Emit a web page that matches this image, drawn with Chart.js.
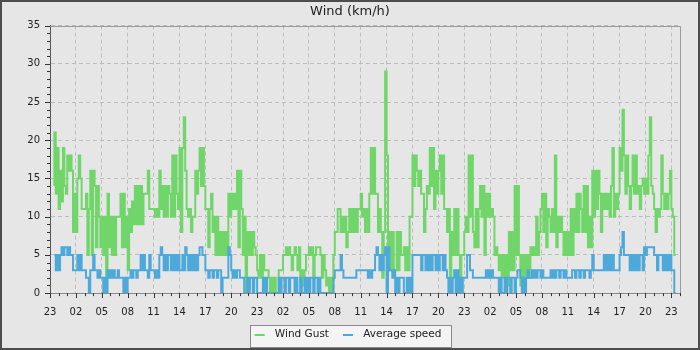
<!DOCTYPE html>
<html>
<head>
<meta charset="utf-8">
<title>Wind (km/h)</title>
<script src="https://cdn.jsdelivr.net/npm/chart.js@4.4.1/dist/chart.umd.min.js"></script>
<style>
  html, body { margin: 0; padding: 0; background: #4d4d4d; }
  canvas { display: block; }
</style>
</head>
<body>
<canvas id="windChart" width="700" height="350"></canvas>
<script>
// DATA - one sample every 10 minutes, first one at 23:30
const firstSample = 0.5;      // hours after 23:00
const sampleStep = 1 / 6;     // 10 min

const tickLabels = ['23','02','05','08','11','14','17','20',
                    '23','02','05','08','11','14','17','20',
                    '23','02','05','08','11','14','17','20','23'];

const gust = [
  14, 21, 13,
  19, 11, 16, 12, 19, 14,
  13, 18, 16, 18, 16, 8,
  13, 8, 15, 18, 15, 11,
  11, 11, 13, 5, 11, 16,
  5, 16, 14, 6, 14, 10,
  6, 10, 5, 10, 2, 13,
  6, 10, 5, 10, 5, 10,
  10, 10, 13, 6, 13, 6,
  10, 3, 11, 8, 12, 9,
  14, 9, 14, 9, 14, 9,
  13, 13, 13, 16, 11, 11,
  11, 11, 10, 11, 10, 16,
  11, 14, 10, 14, 10, 14,
  13, 10, 18, 10, 18, 13,
  11, 19, 8, 19, 23, 16,
  11, 10, 11, 8, 10, 10,
  16, 13, 16, 19, 14, 19,
  14, 11, 11, 6, 11, 13,
  8, 10, 5, 10, 5, 8,
  5, 8, 5, 8, 5, 13,
  10, 13, 11, 13, 11, 16,
  6, 16, 11, 5, 10, 0,
  8, 5, 8, 5, 8, 6,
  5, 3, 2, 5, 2, 5,
  3, 3, 3, 2, 0, 2,
  0, 2, 0, 0, 3, 3,
  3, 5, 5, 6, 5, 6,
  5, 3, 5, 6, 5, 3,
  6, 0, 3, 1, 3, 5,
  5, 6, 5, 6, 2, 5,
  6, 6, 6, 5, 2, 5,
  3, 1, 2, 0, 2, 0,
  5, 8, 8, 11, 11, 8,
  10, 8, 10, 6, 8, 11,
  8, 11, 8, 11, 8, 11,
  11, 13, 10, 11, 8, 11,
  8, 13, 19, 13, 19, 13,
  13, 8, 11, 8, 2, 8,
  29, 18, 3, 8, 3, 8,
  3, 3, 8, 3, 8, 5,
  5, 6, 3, 6, 3, 10,
  10, 18, 14, 18, 16, 14,
  16, 13, 13, 8, 11, 14,
  13, 19, 14, 19, 11, 16,
  13, 16, 18, 13, 18, 11,
  11, 8, 11, 2, 8, 5,
  11, 5, 11, 5, 0, 5,
  5, 8, 10, 8, 18, 10,
  18, 8, 6, 11, 6, 11,
  14, 10, 14, 5, 13, 10,
  13, 10, 11, 10, 5, 6,
  5, 3, 5, 2, 5, 2,
  5, 1, 8, 3, 8, 3,
  14, 5, 14, 5, 1, 5,
  0, 5, 2, 5, 2, 6,
  5, 6, 5, 10, 5, 8,
  11, 13, 8, 13, 6, 11,
  10, 8, 11, 8, 18, 6,
  10, 8, 10, 8, 5, 8,
  5, 8, 5, 11, 5, 11,
  8, 13, 8, 13, 11, 8,
  14, 8, 14, 6, 10, 6,
  16, 10, 16, 11, 16, 13,
  8, 13, 11, 13, 11, 13,
  10, 14, 19, 10, 13, 11,
  13, 19, 16, 24, 18, 13,
  18, 14, 11, 14, 18, 13,
  18, 13, 14, 11, 14, 15,
  13, 15, 13, 18, 23, 14,
  13, 11, 8, 11, 10, 11,
  18, 13, 11, 13, 11, 13,
  16, 11, 10, 5
];

const average = [
  5, 5, 3,
  5, 3, 5, 6, 5, 6,
  6, 5, 6, 5, 5, 3,
  3, 3, 5, 3, 5, 3,
  3, 3, 2, 2, 0, 3,
  3, 5, 3, 3, 2, 3,
  2, 2, 0, 2, 0, 3,
  2, 3, 2, 3, 2, 2,
  3, 2, 2, 2, 0, 2,
  0, 2, 2, 3, 2, 3,
  3, 2, 3, 3, 5, 3,
  5, 3, 3, 2, 5, 3,
  3, 3, 2, 3, 2, 5,
  6, 5, 3, 5, 3, 5,
  5, 3, 5, 3, 5, 3,
  5, 3, 3, 5, 3, 6,
  5, 3, 5, 3, 5, 3,
  5, 3, 5, 6, 6, 5,
  5, 3, 3, 2, 3, 3,
  2, 3, 3, 2, 3, 3,
  0, 2, 2, 2, 2, 6,
  5, 3, 2, 3, 2, 3,
  3, 2, 2, 2, 0, 0,
  2, 0, 2, 2, 0, 2,
  2, 0, 0, 0, 0, 2,
  0, 2, 0, 0, 0, 0,
  0, 0, 0, 0, 2, 0,
  2, 2, 0, 2, 2, 0,
  2, 2, 2, 0, 2, 0,
  0, 2, 0, 0, 2, 0,
  2, 0, 2, 2, 0, 2,
  2, 0, 2, 0, 0, 0,
  0, 0, 0, 0, 0, 0,
  2, 3, 3, 3, 3, 5,
  3, 2, 2, 2, 2, 2,
  2, 2, 2, 2, 3, 3,
  3, 3, 3, 3, 3, 3,
  2, 3, 2, 3, 3, 5,
  6, 5, 3, 5, 3, 5,
  6, 0, 6, 3, 3, 2,
  3, 0, 2, 0, 2, 2,
  2, 0, 0, 2, 0, 2,
  0, 5, 5, 5, 5, 5,
  5, 3, 5, 5, 3, 5,
  3, 5, 3, 5, 5, 3,
  5, 3, 5, 5, 3, 5,
  3, 2, 0, 2, 0, 2,
  3, 0, 3, 0, 2, 0,
  2, 2, 2, 5, 5, 3,
  3, 2, 2, 2, 2, 2,
  2, 2, 2, 2, 3, 2,
  3, 2, 3, 2, 2, 2,
  2, 0, 2, 0, 0, 2,
  0, 2, 2, 0, 2, 2,
  0, 2, 3, 3, 2, 0,
  2, 0, 2, 3, 2, 2,
  3, 2, 3, 2, 3, 3,
  2, 3, 2, 2, 2, 2,
  2, 3, 2, 3, 2, 3,
  3, 2, 3, 3, 2, 3,
  2, 2, 2, 2, 3, 3,
  2, 3, 3, 2, 3, 3,
  2, 3, 3, 3, 2, 3,
  5, 3, 3, 3, 3, 3,
  3, 3, 5, 3, 5, 3,
  5, 3, 5, 3, 3, 3,
  3, 5, 6, 8, 5, 5,
  5, 5, 3, 5, 3, 5,
  3, 5, 3, 5, 5, 3,
  6, 5, 6, 6, 6, 6,
  6, 5, 5, 3, 5, 5,
  5, 3, 5, 3, 5, 3,
  5, 3, 3, 0
];

const GREEN = '#70d66a';
const BLUE = '#4da9da';

const toPoints = arr => arr.map((v, i) => ({ x: firstSample + i * sampleStep, y: v }));

// legend marker: short line with some room on both sides
function legendMark(color) {
  const c = document.createElement('canvas');
  c.width = 23;
  c.height = 2;
  const g = c.getContext('2d');
  g.fillStyle = color;
  g.fillRect(8, 0, 10, 2);
  return c;
}
const marks = [legendMark(GREEN), legendMark(BLUE)];

const LEGEND_SHIFT = 6; // chart.js counts a trailing padding when centring the row

// background, legend box, frame and minor ticks
const decorations = {
  id: 'decorations',
  afterLayout(chart) {
    const lg = chart.legend;
    lg.left -= LEGEND_SHIFT;
    lg.right -= LEGEND_SHIFT;
    (lg.legendHitBoxes || []).forEach(b => { b.left -= LEGEND_SHIFT; });
  },
  beforeDraw(chart) {
    const { ctx, width, height } = chart;
    ctx.save();
    ctx.fillStyle = '#4d4d4d';
    ctx.fillRect(0, 0, width, height);
    ctx.fillStyle = '#e6e6e6';
    ctx.fillRect(2, 2, width - 4, height - 4);

    const lg = chart.legend;
    const hb = lg.legendHitBoxes;
    if (hb && hb.length) {
      const l = Math.round(Math.min(...hb.map(b => b.left)) + 3);
      const r = Math.round(Math.max(...hb.map(b => b.left + b.width)) + 11);
      const b = Math.round(lg.bottom) - 2;
      const t = b - 23;
      ctx.fillStyle = '#f4f4f4';
      ctx.fillRect(l, t, r - l, b - t);
      ctx.strokeStyle = '#8a8a8a';
      ctx.lineWidth = 1;
      ctx.strokeRect(l + 0.5, t + 0.5, r - l - 1, b - t - 1);
    }
    ctx.restore();
  },
  afterDraw(chart) {
    const { ctx, chartArea: a, scales } = chart;
    ctx.save();
    ctx.lineWidth = 1;
    // top and right frame
    ctx.strokeStyle = '#9a9a9a';
    ctx.beginPath();
    ctx.moveTo(a.left, Math.round(a.top) + 0.5);
    ctx.lineTo(a.right + 0.5, Math.round(a.top) + 0.5);
    ctx.lineTo(a.right + 0.5, a.bottom);
    ctx.stroke();

    ctx.strokeStyle = '#333';
    ctx.beginPath();
    const y = scales.y;
    for (let v = y.min; v <= y.max; v++) {
      const py = Math.round(y.getPixelForValue(v)) + 0.5;
      const len = v % 5 === 0 ? 5 : 3;
      ctx.moveTo(a.left - len, py);
      ctx.lineTo(a.left, py);
    }
    const x = scales.x;
    for (let h = x.min; h <= x.max; h++) {
      const px = Math.round(x.getPixelForValue(h)) + 0.5;
      const len = h % 3 === 0 ? 5 : 3;
      ctx.moveTo(px, a.bottom);
      ctx.lineTo(px, a.bottom + len);
    }
    ctx.stroke();
    ctx.restore();
  }
};

Chart.defaults.font.family = '"DejaVu Sans", sans-serif';
Chart.defaults.color = '#222';

new Chart(document.getElementById('windChart'), {
  type: 'line',
  data: {
    datasets: [
      {
        label: 'Wind Gust',
        data: toPoints(gust),
        borderColor: GREEN,
        backgroundColor: GREEN,
        borderWidth: 2,
        stepped: 'after',
        pointRadius: 0,
        order: 1
      },
      {
        label: 'Average speed',
        data: toPoints(average),
        borderColor: BLUE,
        backgroundColor: BLUE,
        borderWidth: 2,
        stepped: 'after',
        pointRadius: 0,
        order: 0
      }
    ]
  },
  options: {
    responsive: false,
    animation: false,
    events: [],
    layout: { padding: { left: 2, right: 2, top: 0, bottom: 0 } },
    plugins: {
      title: {
        display: true,
        text: 'Wind (km/h)',
        color: '#222',
        font: { size: 13, weight: 'normal' },
        padding: { top: 4, bottom: 6 }
      },
      legend: {
        position: 'bottom',
        labels: {
          usePointStyle: true,
          pointStyleWidth: 23,
          padding: 6,
          font: { size: 10.5 },
          color: '#222',
          generateLabels: chart => chart.data.datasets.map((ds, i) => ({
            text: ds.label,
            pointStyle: marks[i],
            fillStyle: ds.borderColor,
            strokeStyle: ds.borderColor,
            lineWidth: 0,
            hidden: false,
            fontColor: '#222',
            datasetIndex: i
          }))
        }
      },
      tooltip: { enabled: false }
    },
    scales: {
      x: {
        type: 'linear',
        min: 0,
        max: 73,
        afterBuildTicks: scale => {
          scale.ticks = tickLabels.map((_, i) => ({ value: i * 3 }));
        },
        afterFit: scale => { scale.height = 30.4; },
        ticks: {
          autoSkip: false,
          maxRotation: 0,
          padding: 13,
          font: { size: 10 },
          color: '#222',
          callback: v => tickLabels[v / 3] ?? ''
        },
        grid: { color: '#bdbdbd', drawTicks: false },
        border: { display: true, color: '#8a8a8a', dash: [4, 3] }
      },
      y: {
        min: 0,
        max: 35,
        afterFit: scale => { scale.width = 48; },
        ticks: {
          stepSize: 5,
          padding: 10,
          font: { size: 10 },
          color: '#222'
        },
        grid: { color: '#bdbdbd', drawTicks: false },
        border: { display: true, color: '#555', dash: [4, 3] }
      },
      // empty axis only keeps the right margin, so title and legend stay centred on the canvas
      yRight: {
        position: 'right',
        afterFit: scale => { scale.width = 18; },
        ticks: { display: false },
        grid: { display: false, drawTicks: false },
        border: { display: false }
      }
    }
  },
  plugins: [decorations]
});
</script>
</body>
</html>
